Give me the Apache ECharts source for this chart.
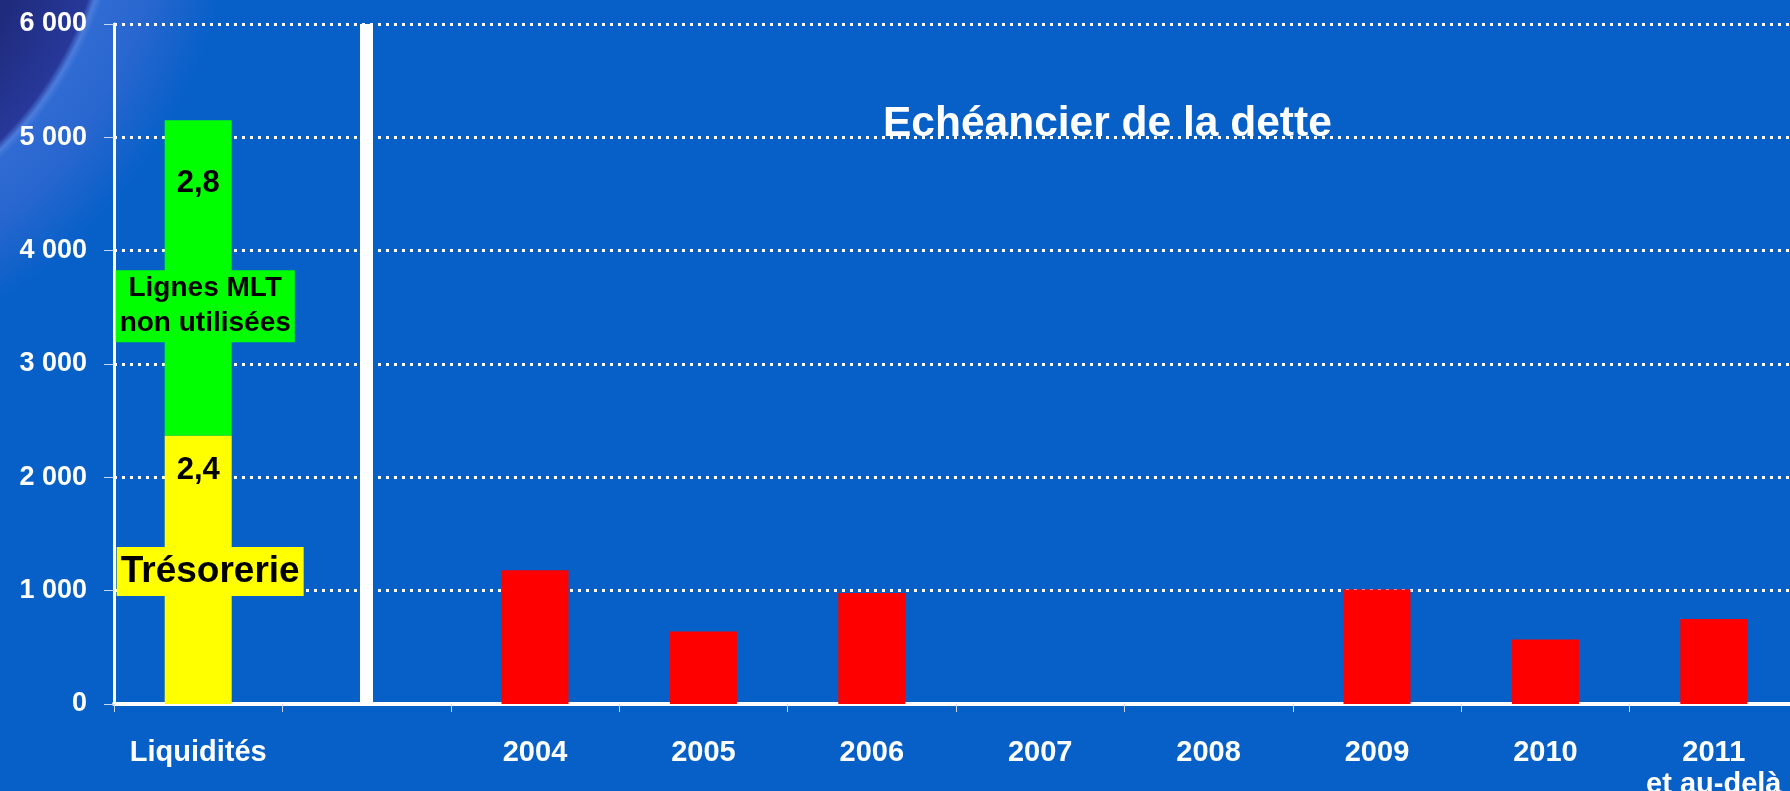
<!DOCTYPE html>
<html>
<head>
<meta charset="utf-8">
<script src="https://cdn.jsdelivr.net/npm/echarts@6/dist/echarts.min.js"></script>
<style>
    html, body {
        margin: 0;
        padding: 0;
        overflow: hidden;
        background: radial-gradient(circle at -264px -122px, #161d5c 0px, #1f2b7c 300px, #27389a 372px, #4a7cdc 379px, #2f6bd2 386px, #2966cf 430px, #0660c8 500px);
    }
    #chart {
        width: 1790px;
        height: 791px;
    }
</style>
</head>
<body>
<div id="chart"></div>
<script>
// data
let categories = ['Liquidités', '', '2004', '2005', '2006', '2007', '2008', '2009', '2010', '2011\net au-delà'];
let tresorerie = [2370, null, null, null, null, null, null, null, null, null];
let lignesMLT = [2780, null, null, null, null, null, null, null, null, null];
let echeances = [null, null, 1180, 640, 980, null, null, 1010, 570, 750];
let yTicks = [0, 1000, 2000, 3000, 4000, 5000, 6000];
let separatorIndex = 1;

let font = 'Liberation Sans, Arial, sans-serif';

let myc = echarts.init(document.getElementById('chart'), null, { renderer: 'canvas' });

// 2370 -> "2,4"
function fmtBn (p) {
    return (p.value / 1000).toFixed(1).replace('.', ',');
}

let options = {
    backgroundColor: 'transparent',
    animation: false,
    title: {
        text: 'Echéancier de la dette',
        left: 878,
        top: 98,
        textStyle: {
            color: '#fff',
            fontSize: 42.5,
            fontWeight: 'bold',
            fontFamily: font,
            lineHeight: 43
        }
    },
    grid: {
        left: 114,
        top: 24,
        width: 1684,
        bottom: 87,
        containLabel: false,
        outerBoundsMode: 'none'
    },
    xAxis: {
        type: 'category',
        data: categories,
        axisLine: {
            lineStyle: { color: '#fff', width: 4 }
        },
        axisTick: {
            show: true,
            length: 8,
            lineStyle: { color: '#c9d6f2', width: 1 }
        },
        axisLabel: {
            interval: 0,
            margin: 33,
            color: '#fff',
            fontSize: 29,
            fontWeight: 'bold',
            fontFamily: font,
            lineHeight: 32
        }
    },
    yAxis: {
        type: 'value',
        min: yTicks[0],
        max: yTicks[yTicks.length - 1],
        interval: yTicks[1] - yTicks[0],
        axisLine: {
            show: true,
            lineStyle: { color: '#fff', width: 3 }
        },
        axisTick: {
            show: true,
            length: 10,
            lineStyle: { color: '#c9d6f2', width: 1 }
        },
        axisLabel: {
            margin: 27,
            color: '#fff',
            fontSize: 27,
            fontWeight: 'bold',
            fontFamily: font,
            formatter: function (v) {
                return String(v).replace(/\B(?=(\d{3})+(?!\d))/g, ' ');
            }
        },
        splitLine: {
            show: true,
            lineStyle: { color: '#fff', width: 3, type: [3, 5] }
        }
    },
    series: [
        {
            name: 'Trésorerie',
            type: 'bar',
            stack: 'all',
            barWidth: 67,
            data: tresorerie,
            itemStyle: { color: '#ffff00' },
            label: {
                show: true,
                position: 'insideTop',
                distance: 20,
                color: '#000',
                fontSize: 31,
                fontWeight: 'bold',
                fontFamily: font,
                formatter: fmtBn
            },
            markPoint: {
                symbol: 'rect',
                symbolSize: 1,
                silent: true,
                itemStyle: { color: 'rgba(0,0,0,0)' },
                label: {
                    show: true,
                    position: 'inside',
                    offset: [12, 0],
                    formatter: '{b}',
                    color: '#000',
                    fontSize: 37,
                    fontWeight: 'bold',
                    fontFamily: font,
                    lineHeight: 45,
                    backgroundColor: '#ffff00',
                    padding: [2, 4]
                },
                data: [{ name: 'Trésorerie', coord: [0, 1170] }]
            }
        },
        {
            name: 'Lignes MLT non utilisées',
            type: 'bar',
            stack: 'all',
            barWidth: 67,
            data: lignesMLT,
            itemStyle: { color: '#00ff00' },
            label: {
                show: true,
                position: 'insideTop',
                distance: 48,
                color: '#000',
                fontSize: 31,
                fontWeight: 'bold',
                fontFamily: font,
                formatter: fmtBn
            },
            markPoint: {
                symbol: 'rect',
                symbolSize: 1,
                silent: true,
                itemStyle: { color: 'rgba(0,0,0,0)' },
                label: {
                    show: true,
                    position: 'inside',
                    offset: [7, 0],
                    formatter: '{b}',
                    color: '#000',
                    fontSize: 28,
                    fontWeight: 'bold',
                    fontFamily: font,
                    lineHeight: 35,
                    backgroundColor: '#00ff00',
                    padding: [1, 4]
                },
                data: [{ name: 'Lignes MLT\nnon utilisées', coord: [0, 3510] }]
            }
        },
        {
            name: 'Echéances',
            type: 'bar',
            stack: 'all',
            barWidth: 67,
            data: echeances,
            itemStyle: { color: '#ff0000' },
            markLine: {
                silent: true,
                symbol: 'none',
                label: { show: false },
                lineStyle: { color: '#fff', width: 13, type: 'solid' },
                data: [{ xAxis: separatorIndex }]
            }
        }
    ]
};
myc.setOption(options);
</script>
</body>
</html>
